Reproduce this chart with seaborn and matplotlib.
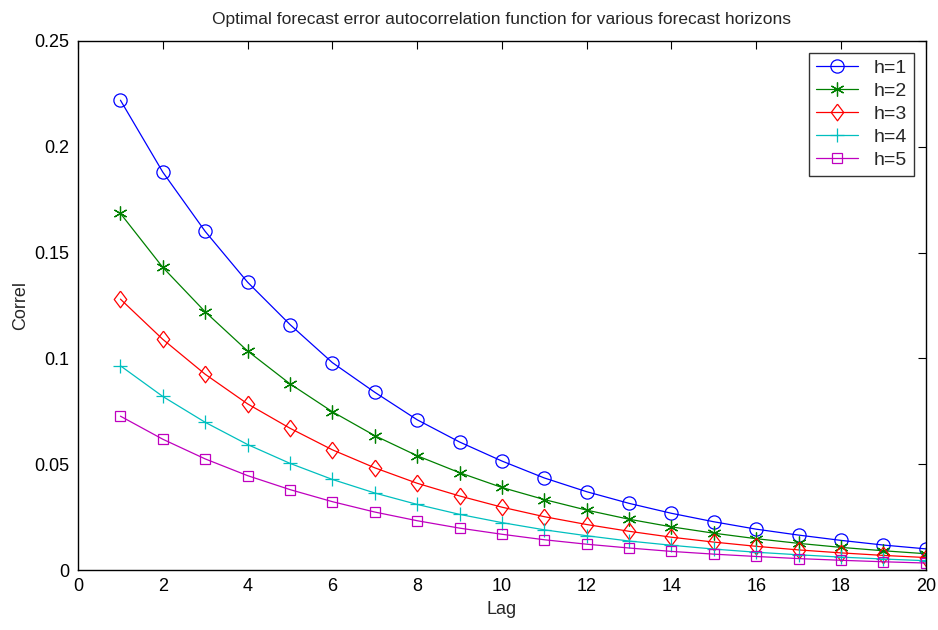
import matplotlib
matplotlib.use("Agg")
import matplotlib.pyplot as plt
import seaborn as sns
import numpy as np

lags = list(range(1, 21))
h1 = [0.222, 0.188, 0.160, 0.136, 0.116, 0.098, 0.084, 0.071, 0.0605, 0.0515,
      0.0435, 0.037, 0.0315, 0.0268, 0.0228, 0.0193, 0.0165, 0.014, 0.0118, 0.0100]
h2 = [0.1685, 0.143, 0.122, 0.1035, 0.088, 0.0748, 0.0635, 0.054, 0.046, 0.039,
      0.0333, 0.0283, 0.024, 0.0204, 0.0174, 0.0148, 0.0126, 0.0107, 0.0091, 0.0077]
h3 = [0.128, 0.109, 0.0925, 0.0785, 0.067, 0.0568, 0.0483, 0.041, 0.035, 0.0297,
      0.0252, 0.0215, 0.0183, 0.0155, 0.0132, 0.0112, 0.0095, 0.0081, 0.0069, 0.0059]
h4 = [0.0965, 0.082, 0.0698, 0.0593, 0.0504, 0.0428, 0.0364, 0.031, 0.0263, 0.0224,
      0.019, 0.0162, 0.0137, 0.0117, 0.0099, 0.0084, 0.0072, 0.0061, 0.0052, 0.0044]
h5 = [0.0727, 0.0618, 0.0525, 0.0446, 0.038, 0.0323, 0.0274, 0.0233, 0.0198, 0.0169,
      0.0143, 0.0122, 0.0104, 0.0088, 0.0075, 0.0064, 0.0054, 0.0046, 0.0039, 0.0033]
labels = ["h=1", "h=2", "h=3", "h=4", "h=5"]

sns.set_style("white")
plt.rcParams['font.family'] = ['Liberation Sans', 'DejaVu Sans']

fig = plt.figure(figsize=(9.38, 6.3), dpi=100)
ax = fig.add_axes([0.0832, 0.0952, 0.9038, 0.8398])

series = [h1, h2, h3, h4, h5]
colors = ["#0000ff", "#008000", "#ff0000", "#00bfbf", "#bf00bf"]
diamond = [(0, 1), (0.75, 0), (0, -1), (-0.75, 0), (0, 1)]
markers = ["o", (6, 2, 0), diamond, "+", "s"]
msizes = [9.5, 10, 12, 10, 7.5]
for ys, lab, c, m, ms in zip(series, labels, colors, markers, msizes):
    sns.lineplot(x=lags, y=ys, ax=ax, color=c, marker=m, markersize=ms,
                 markerfacecolor="none", markeredgecolor=c, markeredgewidth=0.9,
                 linewidth=0.9, label=lab)

ax.set_xlim(0, 20)
ax.set_ylim(0, 0.25)
ax.set_xticks(range(0, 21, 2))
ax.set_yticks([0, 0.05, 0.1, 0.15, 0.2, 0.25])
ax.set_yticklabels(["0", "0.05", "0.1", "0.15", "0.2", "0.25"])
ax.tick_params(direction="in", top=True, right=True, length=6, width=0.8,
               labelsize=13, colors="black", pad=6)
for s in ax.spines.values():
    s.set_visible(True)
    s.set_color("black")
    s.set_linewidth(1.0)
ax.set_xlabel("Lag", fontsize=13)
ax.set_ylabel("Correl", fontsize=13)
ax.set_title("Optimal forecast error autocorrelation function for various forecast horizons",
             fontsize=12.5, pad=12)
leg = ax.legend(loc="upper right", fontsize=14, frameon=True, fancybox=False,
                edgecolor="black", handlelength=2.2, borderpad=0.35, labelspacing=0.28,
                handletextpad=0.8, borderaxespad=0.6)
leg.get_frame().set_linewidth(1.0)
fig.savefig("out.png", dpi=100)
